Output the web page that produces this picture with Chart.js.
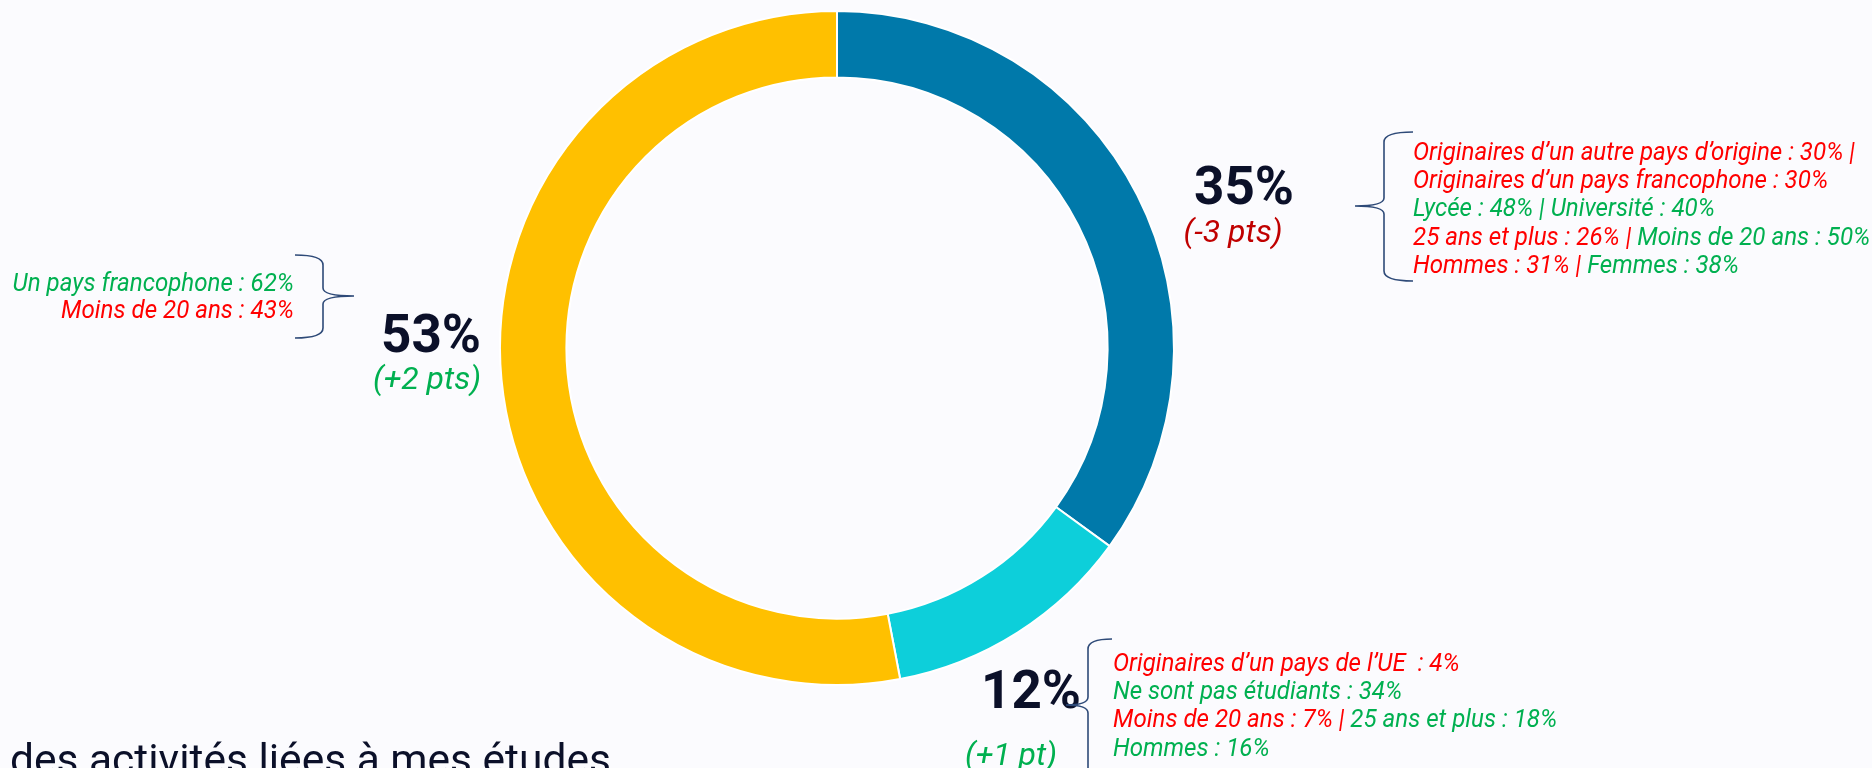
<!DOCTYPE html>
<html>
<head>
<meta charset="utf-8">
<script src="https://cdn.jsdelivr.net/npm/chart.js@4"></script>
<style>
  html, body { margin: 0; padding: 0; background: #fbfbfe; overflow: hidden; }
  #wrap { position: relative; width: 1872px; height: 768px; }
</style>
</head>
<body>
<div id="wrap"><canvas id="c" width="1872" height="768"></canvas></div>
<script>
// ---- data ----
const categories = ['Segment 1', 'Segment 2', 'des activités liées à mes études'];
const values = [35, 12, 53];
const valueLabels = ['35%', '12%', '53%'];
const changeLabels = ['(-3 pts)', '(+1 pt)', '(+2 pts)'];
const legendText = 'des activités liées à mes études';

const RED = '#FF0000', GREEN = '#00B050';
const notesBlue = [
  [['Originaires d\u2019un autre pays d\u2019origine : 30% |', RED]],
  [['Originaires d\u2019un pays francophone : 30%', RED]],
  [['Lycée : 48% | Université : 40%', GREEN]],
  [['25 ans et plus : 26% |', RED], [' Moins de 20 ans : 50%', GREEN]],
  [['Hommes : 31% |', RED], [' Femmes : 38%', GREEN]]
];
const notesCyan = [
  [['Originaires d\u2019un pays de l\u2019UE  : 4%', RED]],
  [['Ne sont pas étudiants : 34%', GREEN]],
  [['Moins de 20 ans : 7% | ', RED], ['25 ans et plus : 18%', GREEN]],
  [['Hommes : 16%', GREEN]]
];
const notesYellow = [
  [['Un pays francophone : 62%', GREEN]],
  [['Moins de 20 ans : 43%', RED]]
];

// ---- styles ----
const segColors = ['#0079AA', '#0DCFDA', '#FFC000'];
const changeColors = ['#C00000', GREEN, GREEN];
const NAVY = '#0B1029';
const BRACE = '#2E4A78';
const NOTE_SX = 0.965;

function drawRuns(ctx, runs, x, y) {
  ctx.save();
  ctx.translate(x, y);
  ctx.scale(NOTE_SX, 1);
  let cx = 0;
  runs.forEach(([t, col]) => {
    ctx.fillStyle = col;
    ctx.fillText(t, cx, 0);
    cx += ctx.measureText(t).width;
  });
  ctx.restore();
}

function braceShape(ctx, xEnd, xV, xTip, yTop, yTip, yBot) {
  ctx.beginPath();
  ctx.moveTo(xEnd, yTop);
  ctx.quadraticCurveTo(xV, yTop, xV, yTop + 10);
  ctx.lineTo(xV, yTip - 8);
  ctx.quadraticCurveTo(xV, yTip, xTip, yTip);
  ctx.quadraticCurveTo(xV, yTip, xV, yTip + 8);
  ctx.lineTo(xV, yBot - 10);
  ctx.quadraticCurveTo(xV, yBot, xEnd, yBot);
  ctx.stroke();
}

const annotPlugin = {
  id: 'annot',
  afterDraw(chart) {
    const ctx = chart.ctx;
    ctx.save();
    ctx.textBaseline = 'alphabetic';
    // big values
    ctx.font = 'bold 53px Roboto';
    ctx.textAlign = 'center';
    ctx.fillStyle = NAVY;
    const valPos = [[1244, 204], [1031, 708], [431, 352]];
    const chgPos = [[1233, 242], [1011, 765], [427, 389]];
    valueLabels.forEach((t, i) => ctx.fillText(t, valPos[i][0], valPos[i][1]));
    ctx.font = 'italic 32px Roboto';
    changeLabels.forEach((t, i) => {
      ctx.fillStyle = changeColors[i];
      ctx.fillText(t, chgPos[i][0], chgPos[i][1]);
    });

    // notes
    ctx.font = 'italic 25px Roboto';
    ctx.textAlign = 'left';
    notesBlue.forEach((runs, i) => drawRuns(ctx, runs, 1413, 160 + i * 28.2));
    notesCyan.forEach((runs, i) => drawRuns(ctx, runs, 1113, 671 + i * 28.2));
    notesYellow.forEach((runs, i) => {
      const w = ctx.measureText(runs[0][0]).width * NOTE_SX;
      drawRuns(ctx, runs, 294 - w, 291 + i * 27);
    });

    // braces
    ctx.strokeStyle = BRACE;
    ctx.lineWidth = 1.6;
    braceShape(ctx, 1413, 1384, 1355, 132, 206, 281);
    braceShape(ctx, 1112, 1088, 1066, 639, 705, 780);
    braceShape(ctx, 295, 323, 354, 255, 296, 338);

    // bottom legend text
    ctx.font = '42.5px Roboto';
    ctx.textAlign = 'left';
    ctx.fillStyle = NAVY;
    ctx.fillText(legendText, 10, 774);
    ctx.restore();
  }
};

new Chart(document.getElementById('c'), {
  type: 'doughnut',
  data: {
    labels: categories,
    datasets: [{
      data: values,
      backgroundColor: segColors,
      borderColor: '#ffffff',
      borderWidth: 2
    }]
  },
  options: {
    responsive: false,
    animation: false,
    cutout: '80.3%',
    layout: { padding: { top: 10, bottom: 82, left: 499, right: 697 } },
    plugins: { legend: { display: false }, tooltip: { enabled: false } }
  },
  plugins: [annotPlugin]
});
</script>
</body>
</html>
